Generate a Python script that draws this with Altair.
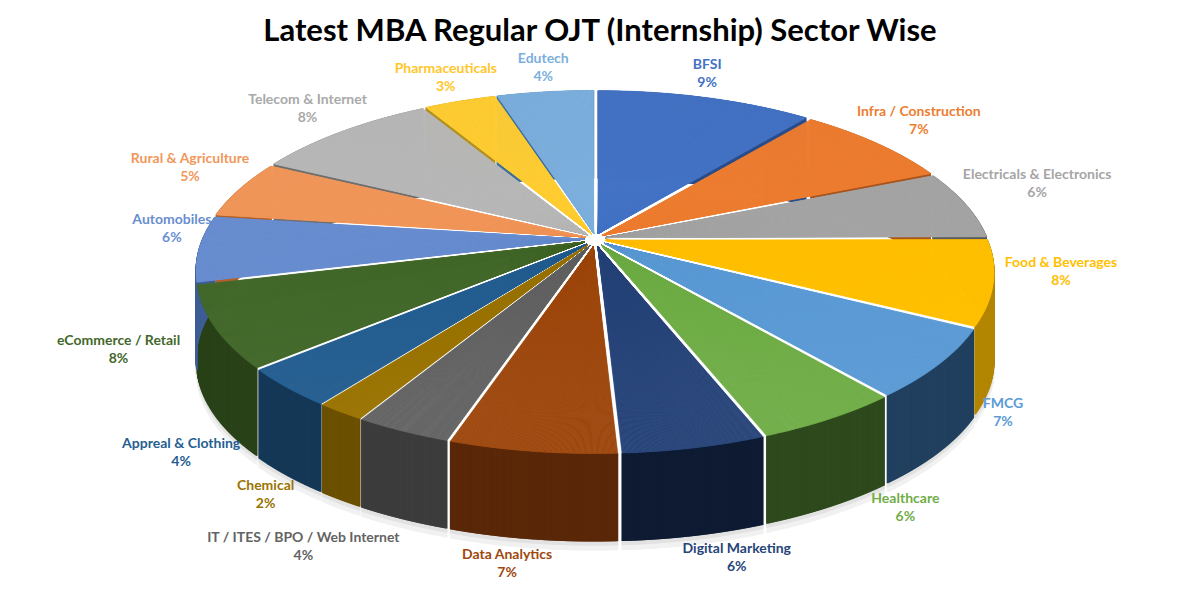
import altair as alt
import pandas as pd

sectors = ["BFSI", "Infra / Construction", "Electricals & Electronics", "Food & Beverages",
           "FMCG", "Healthcare", "Digital Marketing", "Data Analytics",
           "IT / ITES / BPO / Web Internet", "Chemical", "Appreal & Clothing",
           "eCommerce / Retail", "Automobiles", "Rural & Agriculture",
           "Telecom & Internet", "Pharmaceuticals", "Edutech"]
shares = [9, 7, 6, 8, 7, 6, 6, 7, 4, 2, 4, 8, 6, 5, 8, 3, 4]

top_colors = ["#4472C4", "#ED7D31", "#A5A5A5", "#FFC000", "#5B9BD5", "#70AD47", "#264478",
              "#9E480E", "#636363", "#997300", "#255E91", "#43682B", "#698ED0", "#F1975A",
              "#B7B7B7", "#FFCD33", "#7CAFDD"]
side_colors = ["#2B4C8A", "#A8541C", "#5C5C5C", "#B38600", "#21405F", "#2E4A1D", "#0E1B33",
               "#5A2808", "#3C3C3C", "#6B5000", "#153857", "#2A4219", "#3F5E96", "#B0602A",
               "#6E6E6E", "#B38F1F", "#3F6F9A"]
label_colors = ["#4472C4", "#ED7D31", "#A5A5A5", "#FFC000", "#5B9BD5", "#70AD47", "#264478",
                "#9E480E", "#636363", "#997300", "#255E91", "#43682B", "#698ED0", "#F1975A",
                "#A9A9A9", "#FFC629", "#7CAFDD"]

df = pd.DataFrame({"idx": list(range(len(sectors))), "name": sectors, "pct": shares})

# geometry (plot coordinates)
OX, OY = 8, 58
CX, CY = 595 - OX, 272 - OY      # ellipse centre of the top face
A, B = 388, 175                  # ellipse semi-axes
H = 32                           # hub above ellipse centre (perspective)
D = 88                           # depth of the pie
E = 11                           # explode distance
K = 20                           # sub-wedges per percent


def scr_angle(a):
    t = f"atan2({A}*sin({a}), {B}*cos({a})-{H})"
    return f"({t} < 0 ? {t} + 2*PI : {t})"


base = alt.Chart(df).transform_window(
    cum="sum(pct)", sort=[alt.SortField("idx", order="ascending")], frame=[None, 0]
).transform_calculate(
    a_start="(datum.cum - datum.pct) / 100 * 2 * PI",
    a_end="datum.cum / 100 * 2 * PI",
    mid="(datum.cum - datum.pct / 2) / 100 * 2 * PI",
).transform_calculate(
    ex=f"{E} * sin(datum.mid)",
    ey=f"-{E * 0.6} * cos(datum.mid)",
)

wedges = base.transform_calculate(
    nsub=f"round(datum.pct * {K})"
).transform_calculate(
    seq="sequence(0, datum.nsub)"
).transform_flatten(["seq"]).transform_calculate(
    a0="datum.a_start + datum.seq * (datum.a_end - datum.a_start) / datum.nsub",
    a1="datum.a_start + (datum.seq + 1) * (datum.a_end - datum.a_start) / datum.nsub",
).transform_calculate(
    am="(datum.a0 + datum.a1) / 2",
    t0=scr_angle("datum.a0"),
    t1=scr_angle("datum.a1"),
).transform_calculate(
    r=f"sqrt(pow({A}*sin(datum.am), 2) + pow({B}*cos(datum.am) - {H}, 2))",
    hx=f"{CX} + datum.ex",
    hy=f"{CY - H} + datum.ey",
    p0x=f"{CX} + {A}*sin(datum.a0) + datum.ex",
    p1x=f"{CX} + {A}*sin(datum.a1) + datum.ex",
    p0y=f"{CY} - {B}*cos(datum.a0) + datum.ey",
    p1y=f"{CY} - {B}*cos(datum.a1) + datum.ey",
).transform_calculate(
    rx0="min(datum.p0x, datum.p1x) - 0.6",
    rx1="max(datum.p0x, datum.p1x) + 0.6",
    ry0="min(datum.p0y, datum.p1y)",
    ry1=f"max(datum.p0y, datum.p1y) + {D}",
    sh1=f"max(datum.p0y, datum.p1y) + {D} + 9",
    sh2=f"max(datum.p0y, datum.p1y) + {D} + 4",
)

front = wedges.transform_filter("cos(datum.am) < 0.2")

shadow_outer = front.mark_rect(strokeWidth=0, color="#F1F1F1").encode(
    x=alt.X("rx0:Q", scale=None, axis=None),
    x2="rx1:Q",
    y=alt.Y("ry0:Q", scale=None, axis=None),
    y2="sh1:Q",
)
shadow_inner = front.mark_rect(strokeWidth=0, color="#E2E2E2").encode(
    x=alt.X("rx0:Q", scale=None, axis=None),
    x2="rx1:Q",
    y=alt.Y("ry0:Q", scale=None, axis=None),
    y2="sh2:Q",
)

sides = wedges.mark_rect(strokeWidth=0).encode(
    x=alt.X("rx0:Q", scale=None, axis=None),
    x2="rx1:Q",
    y=alt.Y("ry0:Q", scale=None, axis=None),
    y2="ry1:Q",
    color=alt.Color("name:N", scale=alt.Scale(domain=sectors, range=side_colors), legend=None),
)

tops = wedges.mark_arc(strokeWidth=0.7).encode(
    theta=alt.Theta("t0:Q", scale=None, stack=None),
    theta2="t1:Q",
    radius=alt.Radius("r:Q", scale=None),
    x=alt.X("hx:Q", scale=None, axis=None),
    y=alt.Y("hy:Q", scale=None, axis=None),
    color=alt.Color("name:N", scale=alt.Scale(domain=sectors, range=top_colors), legend=None),
    stroke=alt.Stroke("name:N", scale=alt.Scale(domain=sectors, range=top_colors), legend=None),
)

labels = base.transform_calculate(
    hw="length(datum.name) * 3.5",
    pct_label="datum.pct + '%'",
).transform_calculate(
    g="cos(datum.mid) > 0 ? 0 : 16 + 110 * (-cos(datum.mid))",
    push="cos(datum.mid) < 0 ? max(0, datum.hw - 70) * 0.6 * (-cos(datum.mid)) : 0",
).transform_calculate(
    lx=f"{CX} + ({A} + datum.g) * sin(datum.mid) + sin(datum.mid) * datum.hw",
    ly=f"{252 - OY} - (cos(datum.mid) > 0 ? 185 : 316) * cos(datum.mid) + datum.push",
)

lab_color = alt.Color("name:N", scale=alt.Scale(domain=sectors, range=label_colors), legend=None)
name_text = labels.mark_text(font="Lato", fontSize=14, fontWeight="bold", dy=-9).encode(
    x=alt.X("lx:Q", scale=None, axis=None),
    y=alt.Y("ly:Q", scale=None, axis=None),
    text="name:N",
    color=lab_color,
)
pct_text = labels.mark_text(font="Lato", fontSize=14, fontWeight="bold", dy=9).encode(
    x=alt.X("lx:Q", scale=None, axis=None),
    y=alt.Y("ly:Q", scale=None, axis=None),
    text="pct_label:N",
    color=lab_color,
)

chart = alt.layer(shadow_outer, shadow_inner, sides, tops, name_text, pct_text).resolve_scale(
    color="independent", stroke="independent"
).properties(
    width=1184,
    height=530,
    padding={"left": 0, "right": 0, "top": 50, "bottom": 0},
    autosize="none",
    background="white",
    title=alt.TitleParams(
        "Latest MBA Regular OJT (Internship) Sector Wise",
        font="Lato", fontSize=31, fontWeight="bold", color="#000000",
        anchor="middle", offset=4,
    ),
).configure_view(stroke=None)

chart.save("out.html", embed_options={"renderer": "svg", "actions": False})
